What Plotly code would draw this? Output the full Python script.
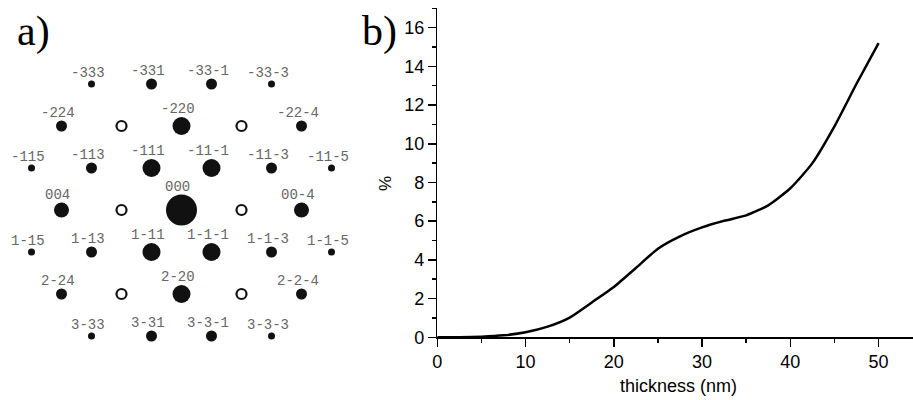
import plotly.graph_objects as go

# ---- panel b) data ----
thickness = [0, 2.5, 5, 7.5, 10, 12.5, 15, 17.5, 20, 22.5, 25, 27.5, 30, 32.5,
             35, 37.5, 40, 42.5, 45, 47.5, 50]
percent = [0.0, 0.0, 0.03, 0.1, 0.26, 0.55, 1.02, 1.8, 2.6, 3.58, 4.58, 5.22,
           5.68, 6.02, 6.3, 6.82, 7.7, 9.0, 10.9, 13.1, 15.2]

# ---- panel a) diffraction spots: label, l index, h index, spot diameter ----
spot_labels = ["-333", "-331", "-33-1", "-33-3",
               "-224", "-220", "-22-4",
               "-115", "-113", "-111", "-11-1", "-11-3", "-11-5",
               "004", "000", "00-4",
               "1-15", "1-13", "1-11", "1-1-1", "1-1-3", "1-1-5",
               "2-24", "2-20", "2-2-4",
               "3-33", "3-31", "3-3-1", "3-3-3"]
spot_l = [3, 1, -1, -3,
          4, 0, -4,
          5, 3, 1, -1, -3, -5,
          4, 0, -4,
          5, 3, 1, -1, -3, -5,
          4, 0, -4,
          3, 1, -1, -3]
spot_h = [-3, -3, -3, -3,
          -2, -2, -2,
          -1, -1, -1, -1, -1, -1,
          0, 0, 0,
          1, 1, 1, 1, 1, 1,
          2, 2, 2,
          3, 3, 3, 3]
spot_size = [7, 11, 11, 7,
             11, 18, 11,
             7, 11, 18, 18, 11, 7,
             15, 31, 15,
             7, 11, 18, 18, 11, 7,
             11, 18, 11,
             7, 11, 11, 7]
# forbidden (double-diffraction) reflections, drawn as open circles
open_l = [2, -2, 2, -2, 2, -2]
open_h = [-2, -2, 0, 0, 2, 2]

W, H = 913, 400

fig = go.Figure()

fig.add_trace(go.Scatter(
    x=thickness, y=percent, mode="lines",
    line=dict(color="black", width=2.5, shape="spline", smoothing=0.6),
    xaxis="x", yaxis="y", hoverinfo="skip"))

fig.add_trace(go.Scatter(
    x=[-v for v in spot_l], y=[-v for v in spot_h], mode="markers",
    marker=dict(size=spot_size, color="#111111", opacity=1,
                line=dict(width=0)),
    xaxis="x2", yaxis="y2", hoverinfo="skip"))

fig.add_trace(go.Scatter(
    x=[-v for v in open_l], y=[-v for v in open_h], mode="markers",
    marker=dict(size=10, symbol="circle-open", color="#111111", opacity=1,
                line=dict(width=2.2, color="#111111")),
    xaxis="x2", yaxis="y2", hoverinfo="skip"))

annotations = []
for lab, l, h, s in zip(spot_labels, spot_l, spot_h, spot_size):
    annotations.append(dict(
        x=-l, y=-h, xref="x2", yref="y2", text=lab, showarrow=False,
        xanchor="center", yanchor="middle", xshift=-4, yshift=s / 2 + 8,
        font=dict(family="Liberation Mono", size=14, color="#666666")))

annotations += [
    dict(x=15 / W, y=0.92, xref="paper", yref="paper", text="a)",
         showarrow=False, xanchor="left", yanchor="middle",
         font=dict(family="Liberation Serif", size=42, color="black")),
    dict(x=360 / W, y=0.92, xref="paper", yref="paper", text="b)",
         showarrow=False, xanchor="left", yanchor="middle",
         font=dict(family="Liberation Serif", size=42, color="black")),
    dict(x=385 / W, y=(H - 184) / H, xref="paper", yref="paper", text="%",
         showarrow=False, textangle=-90, xanchor="center", yanchor="middle",
         font=dict(family="Liberation Sans", size=17, color="black")),
    dict(x=678 / W, y=(H - 386) / H, xref="paper", yref="paper",
         text="thickness (nm)", showarrow=False, xanchor="center",
         yanchor="middle",
         font=dict(family="Liberation Sans", size=18, color="black")),
]

axis_common = dict(
    showline=True, linecolor="black", linewidth=1.5, ticks="outside",
    ticklen=8, tickwidth=1.5, tickcolor="black", showgrid=False,
    zeroline=False, tickfont=dict(family="Liberation Sans", size=18,
                                  color="black"))

fig.update_layout(
    width=W, height=H, margin=dict(l=0, r=0, t=0, b=0, autoexpand=False),
    paper_bgcolor="white", plot_bgcolor="white", showlegend=False,
    xaxis=dict(domain=[437.3 / W, 1.0], range=[0, 53.9], tick0=0, dtick=10,
               anchor="y",
               minor=dict(dtick=5, ticks="outside", ticklen=4, tickwidth=1.5,
                          tickcolor="black"),
               **axis_common),
    yaxis=dict(domain=[(H - 337.3) / H, (H - 8.3) / H], range=[0, 17],
               tick0=0, dtick=2, anchor="x",
               minor=dict(dtick=1, ticks="outside", ticklen=4, tickwidth=1.5,
                          tickcolor="black"),
               **axis_common),
    xaxis2=dict(domain=[0, 363 / W], range=[-6.05, 6.05], visible=False,
                anchor="y2"),
    yaxis2=dict(domain=[0, 1], range=[-190 / 42, 210 / 42], visible=False,
                anchor="x2"),
    annotations=annotations,
)

fig.write_html("out.html",
               config={"displayModeBar": False, "staticPlot": True},
               post_script="document.body.style.margin='0px';"
                           "document.body.style.overflow='hidden';")
